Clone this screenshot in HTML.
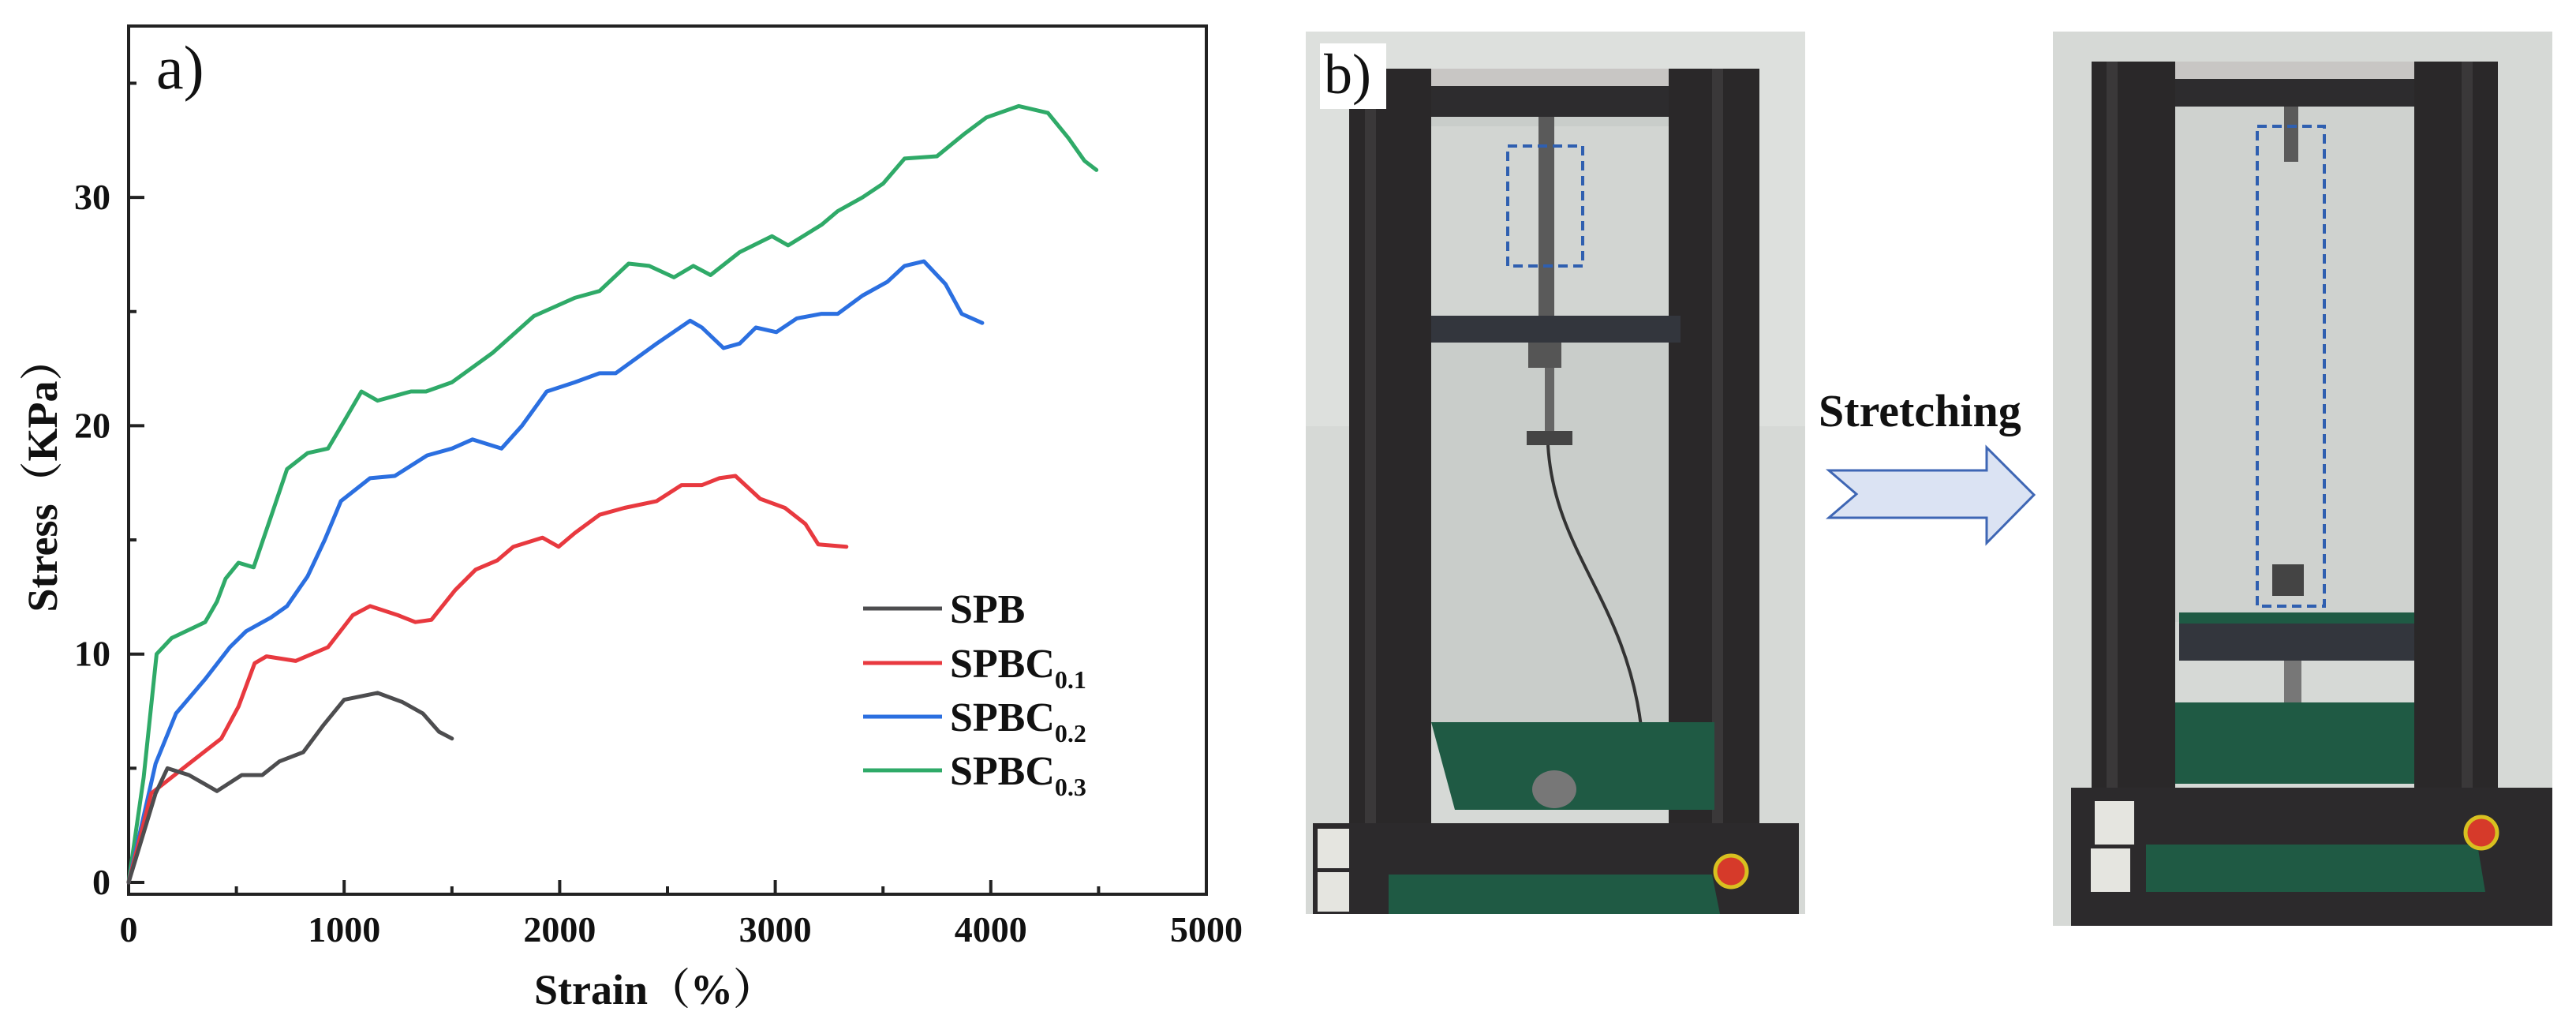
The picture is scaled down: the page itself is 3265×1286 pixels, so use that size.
<!DOCTYPE html>
<html><head><meta charset="utf-8">
<style>
html,body{margin:0;padding:0;background:#fff;}
svg{display:block;}
text{font-family:"Liberation Serif","Noto Serif CJK SC",serif;}
</style></head>
<body>
<svg id="fig" width="3265" height="1286" viewBox="0 0 3265 1286" xmlns="http://www.w3.org/2000/svg">
  <g id="chart"></g>

  <!-- Left photo -->
  <g>
    <rect x="1655" y="40" width="633" height="1118" fill="#d6d9d6"/>
    <rect x="1655" y="40" width="633" height="500" fill="#dde0dd"/>
    <rect x="1814" y="148" width="301" height="770" fill="#c9cdca"/>
    <rect x="1814" y="160" width="301" height="240" fill="#d2d5d2"/>
    <rect x="1710" y="87" width="520" height="61" fill="#2d2c2e"/>
    <rect x="1790" y="87" width="380" height="22" fill="#c8c6c4"/>
    <rect x="1710" y="87" width="104" height="970" fill="#2a2829"/>
    <rect x="1730" y="87" width="14" height="970" fill="#3a3839"/>
    <rect x="2115" y="87" width="115" height="970" fill="#2a2829"/>
    <rect x="2170" y="87" width="14" height="970" fill="#3a3839"/>
    <rect x="1814" y="400" width="316" height="34" fill="#33363d"/>
    <rect x="1950" y="148" width="20" height="252" fill="#5a5a5a"/>
    <rect x="1937" y="434" width="42" height="32" fill="#555"/>
    <rect x="1958" y="466" width="12" height="80" fill="#666"/>
    <rect x="1935" y="546" width="58" height="18" fill="#444"/>
    <path d="M1962 564 C1970 700 2060 760 2080 920" stroke="#333" stroke-width="4" fill="none"/>
    <polygon points="1814,915 2173,915 2173,1026 1844,1026" fill="#1f5a44"/>
    <ellipse cx="1970" cy="1000" rx="28" ry="24" fill="#777"/>
    <polygon points="1664,1043 2280,1043 2280,1158 1664,1158" fill="#2c2a2c"/>
    <polygon points="1760,1108 2170,1108 2180,1158 1760,1158" fill="#1f5a44"/>
    <rect x="1670" y="1050" width="40" height="50" fill="#e5e5e0"/>
    <rect x="1670" y="1105" width="40" height="50" fill="#e5e5e0"/>
    <circle cx="2194" cy="1104" r="20" fill="#d63a2a" stroke="#d8c020" stroke-width="5"/>
    <rect x="1911" y="185" width="95" height="152" fill="none" stroke="#2f5fb0" stroke-width="4" stroke-dasharray="12,7"/>
    <rect x="1673" y="55" width="84" height="83" fill="#fff"/>
    <text x="1678" y="118" font-size="72" fill="#111">b)</text>
  </g>

  <!-- Stretching arrow -->
  <text x="2305" y="540" font-size="58" font-weight="bold" fill="#111">Stretching</text>
  <polygon points="2318,596 2518,596 2518,567 2578,627 2518,688 2518,656 2318,656 2353,626" fill="#dbe3f3" stroke="#3e66b4" stroke-width="3"/>

  <!-- Right photo -->
  <g>
    <rect x="2602" y="40" width="633" height="1133" fill="#d6d9d6"/>
    <rect x="2757" y="135" width="303" height="653" fill="#cfd2cf"/>
    <rect x="2651" y="78" width="515" height="57" fill="#2d2c2e"/>
    <rect x="2720" y="78" width="380" height="22" fill="#c8c6c4"/>
    <rect x="2651" y="78" width="106" height="940" fill="#2a2829"/>
    <rect x="2670" y="78" width="14" height="940" fill="#3a3839"/>
    <rect x="3060" y="78" width="106" height="940" fill="#2a2829"/>
    <rect x="3120" y="78" width="14" height="940" fill="#3a3839"/>
    <rect x="2895" y="135" width="18" height="70" fill="#5a5a5a"/>
    <rect x="2880" y="715" width="40" height="40" fill="#444"/>
    <rect x="2762" y="776" width="298" height="14" fill="#1f5a44"/>
    <rect x="2762" y="790" width="298" height="47" fill="#33363d"/>
    <rect x="2895" y="837" width="22" height="80" fill="#777"/>
    <ellipse cx="2905" cy="940" rx="35" ry="30" fill="#888"/>
    <polygon points="2757,890 3060,890 3060,993 2757,993" fill="#1f5a44"/>
    <polygon points="2625,998 3235,998 3235,1173 2625,1173" fill="#2c2a2c"/>
    <polygon points="2720,1070 3140,1070 3150,1130 2720,1130" fill="#1f5a44"/>
    <rect x="2655" y="1015" width="50" height="55" fill="#e5e5e0"/>
    <rect x="2650" y="1075" width="50" height="55" fill="#e5e5e0"/>
    <circle cx="3145" cy="1055" r="20" fill="#d63a2a" stroke="#d8c020" stroke-width="5"/>
    <rect x="2861" y="160" width="85" height="608" fill="none" stroke="#2f5fb0" stroke-width="4" stroke-dasharray="12,7"/>
  </g>
</svg>
<script>
// Chart data
const strainGreen = [0,70,130,200,355,410,450,510,580,660,735,830,925,1000,1080,1155,1310,1380,1500,1690,1880,2070,2185,2320,2415,2530,2620,2700,2835,2985,3060,3215,3290,3405,3500,3600,3750,3880,3980,4130,4265,4360,4435,4490];
const stressGreen = [0,4.6,10,10.7,11.4,12.3,13.3,14,13.8,16,18.1,18.8,19,20.2,21.5,21.1,21.5,21.5,21.9,23.2,24.8,25.6,25.9,27.1,27,26.5,27,26.6,27.6,28.3,27.9,28.8,29.4,30,30.6,31.7,31.8,32.8,33.5,34,33.7,32.6,31.6,31.2];
const strainBlue = [0,125,220,355,470,545,660,735,830,910,985,1120,1235,1385,1500,1595,1730,1825,1940,2070,2185,2260,2450,2605,2660,2760,2835,2910,3005,3100,3215,3290,3405,3520,3600,3690,3790,3865,3960];
const stressBlue = [0,5.2,7.4,8.9,10.3,11,11.6,12.1,13.4,15,16.7,17.7,17.8,18.7,19,19.4,19,20,21.5,21.9,22.3,22.3,23.6,24.6,24.3,23.4,23.6,24.3,24.1,24.7,24.9,24.9,25.7,26.3,27,27.2,26.2,24.9,24.5];
const strainRed = [0,105,280,430,510,585,640,775,925,1040,1120,1250,1330,1405,1515,1610,1710,1785,1920,1995,2070,2185,2300,2450,2565,2660,2740,2815,2930,3045,3140,3200,3330];
const stressRed = [0,3.9,5.2,6.3,7.7,9.6,9.9,9.7,10.3,11.7,12.1,11.7,11.4,11.5,12.8,13.7,14.1,14.7,15.1,14.7,15.3,16.1,16.4,16.7,17.4,17.4,17.7,17.8,16.8,16.4,15.7,14.8,14.7];
const strainBlack = [0,125,180,280,410,525,620,700,810,905,1000,1155,1270,1365,1440,1500];
const stressBlack = [0,3.9,5,4.7,4,4.7,4.7,5.3,5.7,6.9,8,8.3,7.9,7.4,6.6,6.3];
const xTicks = [0,1000,2000,3000,4000,5000];
const yTicks = [0,10,20,30];
const seriesNames = ["SPB","SPBC0.1","SPBC0.2","SPBC0.3"];

const NS="http://www.w3.org/2000/svg";
const X0=163, XS=273.2/1000, Y0=1118, YS=28.93;
function xPos(v){return X0+v*XS;}
function yPos(v){return Y0-v*YS;}
const chart=document.getElementById('chart');
function mk(tag,attrs,parent){const e=document.createElementNS(NS,tag);for(const k in attrs)e.setAttribute(k,attrs[k]);(parent||chart).appendChild(e);return e;}

// frame
const frame=mk('rect',{x:163,y:33,width:1366,height:1100,fill:'none',stroke:'#222','stroke-width':4});



// x ticks
for(let v=0;v<=5000;v+=500){
  const major=v%1000===0;
  const t=mk('line',{x1:xPos(v),x2:xPos(v),y1:1133,y2:1133-(major?18:10),stroke:'#222','stroke-width':4});
  
  
}
xTicks.forEach(v=>{
  const t=mk('text',{x:xPos(v),y:1193,'font-size':46,'font-weight':'bold','text-anchor':'middle',fill:'#111'});
  t.textContent=v;
  
  
});
for(let v=0;v<=35;v+=5){
  const major=v%10===0;
  const t=mk('line',{x1:163,x2:163+(major?20:10),y1:yPos(v),y2:yPos(v),stroke:'#222','stroke-width':4});
  
  
}
yTicks.forEach(v=>{
  const t=mk('text',{x:140,y:yPos(v)+15,'font-size':46,'font-weight':'bold','text-anchor':'end',fill:'#111'});
  t.textContent=v;
  
  
});

// axis titles
const xt=mk('text',{x:830,y:1272,'font-size':54,'font-weight':'bold','text-anchor':'middle',fill:'#111'});
xt.textContent='Strain（%）';


const yt=mk('text',{x:0,y:0,'font-size':54,'font-weight':'bold','text-anchor':'middle',fill:'#111',transform:'translate(72,602) rotate(-90)'});
yt.textContent='Stress（KPa）';



const pa=mk('text',{x:198,y:112,'font-size':78,fill:'#111'});
pa.textContent='a)';



// series
const colors=['#4d4d4f','#e8393f','#2b6fe0','#2faa68'];
const sx=[strainBlack,strainRed,strainBlue,strainGreen];
const sy=[stressBlack,stressRed,stressBlue,stressGreen];
const lineNames=['line-spb','line-spbc01','line-spbc02','line-spbc03'];
for(let i=3;i>=0;i--){
  const pts=sx[i].map((v,j)=>xPos(v).toFixed(1)+','+yPos(sy[i][j]).toFixed(1)).join(' ');
  const pl=mk('polyline',{points:pts,fill:'none',stroke:colors[i],'stroke-width':5,'stroke-linejoin':'round','stroke-linecap':'round'});
  
  
}

// legend
const legY=[771,840,908,976];
seriesNames.forEach((n,i)=>{
  const l=mk('line',{x1:1094,x2:1194,y1:legY[i],y2:legY[i],stroke:colors[i],'stroke-width':5});
  
  
  const t=mk('text',{x:1204,y:legY[i]+18,'font-size':52,'font-weight':'bold',fill:'#111'});
  
  
  if(n==='SPB'){t.textContent='SPB';}
  else{
    t.appendChild(document.createTextNode('SPBC'));
    const s=document.createElementNS(NS,'tspan');
    s.setAttribute('font-size','32');
    s.setAttribute('dy','14');
    s.textContent=n.slice(4);
    t.appendChild(s);
  }
});
</script>
</body></html>
